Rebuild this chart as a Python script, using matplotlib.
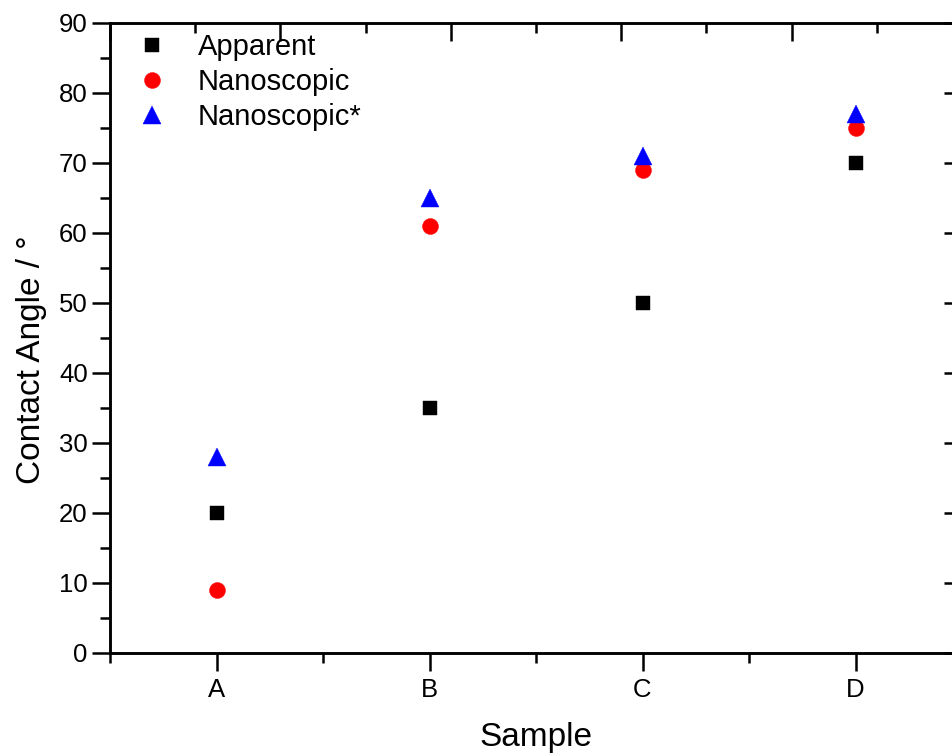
import matplotlib
matplotlib.use("Agg")
import matplotlib.pyplot as plt
from matplotlib.ticker import MultipleLocator, FixedLocator

plt.rcParams['font.family'] = ['Liberation Sans', 'DejaVu Sans']

samples = ["A", "B", "C", "D"]
apparent = [20, 35, 50, 70]
nanoscopic = [9, 61, 69, 75]
nanoscopic_star = [28, 65, 71, 77]

W, H = 953, 753
fig = plt.figure(figsize=(W / 100, H / 100), dpi=100)
left, right, bottom, top = 110, 962, 653, 23
ax = fig.add_axes([left / W, (H - bottom) / H, (right - left) / W, (bottom - top) / H])

x = list(range(1, len(samples) + 1))
ax.plot(x, apparent, ls='none', marker='s', ms=9.4, color='black', mec='black', mew=0.3, label='Apparent')
ax.plot(x, nanoscopic, ls='none', marker='o', ms=11.5, color='#ff0000', mec='#ff0000', mew=0.3, label='Nanoscopic')
ax.plot(x, nanoscopic_star, ls='none', marker='^', ms=12.5, color='#0000ff', mec='#0000ff', mew=0.3, label='Nanoscopic*')

ax.set_xlim(0.5, len(samples) + 0.5)
ax.set_ylim(0, 90)
ax.set_xticks(x)
ax.set_xticklabels(samples)
ax.xaxis.set_minor_locator(FixedLocator([i + 0.5 for i in range(0, len(samples) + 1)]))
ax.yaxis.set_major_locator(MultipleLocator(10))
ax.yaxis.set_minor_locator(MultipleLocator(5))

lw = 1.8
for s in ax.spines.values():
    s.set_linewidth(lw)
ax.tick_params(axis='both', which='major', direction='out', length=13, width=lw, labelsize=18.5)
ax.tick_params(axis='both', which='minor', direction='out', length=7, width=lw)
ax.tick_params(axis='y', which='major', pad=3)
ax.tick_params(axis='x', which='major', pad=5)

# top axis (independent linear scale, inward ticks)
axt = ax.twiny()
axt.set_xlim(0, 5)
axt.xaxis.set_major_locator(MultipleLocator(1))
axt.xaxis.set_minor_locator(MultipleLocator(0.5))
axt.tick_params(axis='x', which='major', direction='in', length=13, width=lw, labeltop=False)
axt.tick_params(axis='x', which='minor', direction='in', length=7, width=lw)
for s in axt.spines.values():
    s.set_linewidth(lw)

# right axis, inward ticks
axr = ax.twinx()
axr.set_ylim(0, 90)
axr.yaxis.set_major_locator(MultipleLocator(10))
axr.yaxis.set_minor_locator(MultipleLocator(5))
axr.tick_params(axis='y', which='major', direction='in', length=13, width=lw, labelright=False)
axr.tick_params(axis='y', which='minor', direction='in', length=7, width=lw)

ax.set_xlabel('Sample', fontsize=24)
ax.set_ylabel('Contact Angle / °', fontsize=24)
ax.xaxis.set_label_coords(0.5, -0.109)
ax.yaxis.set_label_coords(-0.074, 0.465)

leg = ax.legend(loc='upper left', bbox_to_anchor=(0.019, 1.003), frameon=False, fontsize=21,
                numpoints=1, handlelength=1.0, handletextpad=1.05, labelspacing=0.25, borderaxespad=0.0)

fig.savefig('out.png', dpi=100)
